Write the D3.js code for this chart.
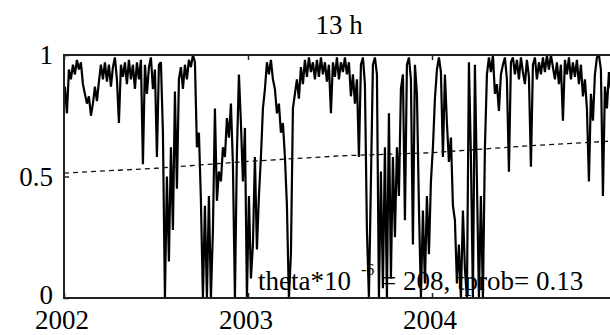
<!DOCTYPE html>
<html>
<head>
<meta charset="utf-8">
<script src="https://cdn.jsdelivr.net/npm/d3@7"></script>
<style>
  body { margin: 0; background: #fff; overflow: hidden; }
  svg { display: block; }
  svg text { font-family: "Liberation Serif", "DejaVu Serif", "Times New Roman", Times, serif; }
</style>
</head>
<body>
<svg id="chart" width="610" height="335"></svg>
<script>
// series sampled every 1/92 year starting at the start of 2002
const t0 = 2002.005;
const step = 1 / 92;
const series = [
  0.87, 0.76, 0.94, 0.90, 0.96, 0.92, 0.98, 0.94, 0.97, 0.88,
  0.84, 0.80, 0.83, 0.75, 0.80, 0.87, 0.81, 0.89, 0.96, 0.90,
  0.97, 0.89, 0.96, 0.87, 0.95, 0.99, 0.90, 0.72, 0.96, 0.91,
  0.97, 0.88, 0.98, 0.90, 0.96, 0.86, 0.97, 0.90, 0.98, 0.55,
  0.96, 0.84, 0.95, 0.99, 0.86, 0.94, 0.58, 0.96,
  0.97, 0.68, 0.00, 0.50, 0.15, 0.62, 0.28, 0.85, 0.45, 0.90,
  0.95, 0.86, 0.96, 0.90, 0.98, 0.95, 1.00, 0.97, 0.62, 0.68,
  0.40, 0.00, 0.38, 0.00, 0.42, 0.00, 0.28, 0.78, 0.40, 0.52,
  0.48, 0.62, 0.58, 0.74, 0.66, 0.80, 0.55, 0.00, 0.60, 0.92,
  0.72, 0.48, 0.70, 0.00, 0.42, 0.08, 0.22, 0.58,
  0.20, 0.42, 0.58, 0.78, 0.86, 0.97, 0.92, 0.98, 0.90, 0.86,
  0.76, 0.80, 0.68, 0.72, 0.58, 0.38, 0.00, 0.18, 0.78, 0.84,
  0.90, 0.82, 0.95, 0.88, 0.98, 0.91, 0.99, 0.93, 0.97, 0.90,
  0.98, 0.91, 0.99, 0.92, 0.97, 0.89, 0.96, 0.76, 0.97, 0.91,
  0.99, 0.90, 0.97, 0.93, 0.99, 0.92, 0.97,
  0.83, 0.92, 0.80, 0.90, 0.58, 0.96, 0.99, 0.88, 0.28, 0.00,
  0.48, 0.96, 0.99, 0.92, 0.00, 0.52, 0.04, 0.62, 0.00, 0.76,
  0.08, 0.58, 0.25, 0.62, 0.42, 0.86, 0.92, 0.32, 0.96, 0.99,
  0.90, 0.22, 0.96, 0.84, 0.38, 0.00, 0.36, 0.06, 0.42, 0.18,
  0.48, 0.62, 0.82, 0.94, 0.99, 0.93, 0.58,
  0.92, 0.72, 0.56, 0.66, 0.38, 0.32, 0.06, 0.22, 0.00, 0.36,
  0.12, 0.00, 0.97, 0.58, 0.00, 0.96, 0.48, 0.00, 0.42, 0.00,
  0.62, 0.92, 0.99, 0.93, 1.00, 0.84, 0.88, 0.77, 0.92, 0.96,
  0.99, 0.90, 0.52, 0.97, 0.99, 0.92, 0.98, 0.90, 0.99, 0.93,
  0.88, 0.98, 0.91, 0.54, 0.96, 0.99, 0.90, 0.97,
  0.92, 0.99, 0.93, 1.00, 0.94, 1.00, 0.95, 0.90, 0.97, 0.88,
  0.96, 0.73, 0.98, 0.92, 0.99, 0.90, 0.97, 0.91, 0.98, 0.88,
  0.96, 0.83, 0.90, 0.78, 0.48, 0.84, 0.73, 0.92, 0.99, 1.00,
  0.94, 0.42, 0.87, 0.78, 0.93, 0.86
];

// dashed trend line
const trendYears = [2002, 2002.5, 2003, 2003.5, 2004, 2004.5, 2005];
const trendVals = [0.514, 0.534, 0.562, 0.585, 0.598, 0.625, 0.647];

const yearTicks = [2002, 2003, 2004];
const yTicks = [0, 0.5, 1];
const title = "13 h";

const margin = { top: 55, left: 64, bottom: 37 };
const svg = d3.select("#chart");
const H = 335;

const x = d3.scaleLinear().domain([2002, 2005]).range([margin.left, margin.left + 552]);
const y = d3.scaleLinear().domain([0, 1]).range([H - margin.bottom, margin.top]);

svg.append("rect").attr("width", 610).attr("height", 335).attr("fill", "#fff");

svg.append("defs").append("clipPath").attr("id", "clip")
  .append("rect")
  .attr("x", x(2002)).attr("y", y(1))
  .attr("width", 700).attr("height", y(0) - y(1));

const plot = svg.append("g").attr("clip-path", "url(#clip)");

const pts = series.map((v, i) => ({ t: t0 + i * step, v: v }));

plot.append("path")
  .datum(pts)
  .attr("fill", "none")
  .attr("stroke", "#000")
  .attr("stroke-width", 2.2)
  .attr("stroke-linejoin", "bevel")
  .attr("d", d3.line().x(d => x(d.t)).y(d => y(d.v)));

plot.append("path")
  .datum(trendYears.map((t, i) => ({ t: t, v: trendVals[i] })))
  .attr("fill", "none")
  .attr("stroke", "#111")
  .attr("stroke-width", 1.3)
  .attr("stroke-dasharray", "5,4")
  .attr("d", d3.line().x(d => x(d.t)).y(d => y(d.v)));

// frame
svg.append("rect")
  .attr("x", x(2002)).attr("y", y(1))
  .attr("width", 700).attr("height", y(0) - y(1))
  .attr("fill", "none")
  .attr("stroke", "#222")
  .attr("stroke-width", 2);

// inner ticks
const xb = d3.axisBottom(x).tickValues(yearTicks).tickSize(-5).tickFormat("");
const xt = d3.axisTop(x).tickValues(yearTicks).tickSize(-5).tickFormat("");
const yl = d3.axisLeft(y).tickValues(yTicks).tickSize(-5).tickFormat("");
[svg.append("g").attr("transform", `translate(0,${y(0)})`).call(xb),
 svg.append("g").attr("transform", `translate(0,${y(1)})`).call(xt),
 svg.append("g").attr("transform", `translate(${x(2002)},0)`).call(yl)]
  .forEach(g => {
    g.select(".domain").remove();
    g.selectAll("line").attr("stroke", "#222").attr("stroke-width", 1.5);
  });

svg.selectAll("text.ylab")
  .data(yTicks)
  .join("text")
  .attr("class", "ylab")
  .attr("x", x(2002) - 11)
  .attr("y", d => d === 0 ? y(d) + 6 : y(d) + 9)
  .attr("text-anchor", "end")
  .style("font-size", "27px")
  .text(d => d3.format("~g")(d));

svg.selectAll("text.xlab")
  .data(yearTicks)
  .join("text")
  .attr("class", "xlab")
  .attr("x", d => x(d) - 2)
  .attr("y", 329)
  .attr("text-anchor", "middle")
  .style("font-size", "27px")
  .text(d => d);

svg.append("text")
  .attr("x", 339)
  .attr("y", 34)
  .attr("text-anchor", "middle")
  .style("font-size", "27px")
  .text(title);

const note = svg.append("text")
  .attr("x", 258)
  .attr("y", 290)
  .style("font-size", "27px");
note.append("tspan").text("theta*10");
note.append("tspan").attr("dx", 10).attr("dy", -15).style("font-size", "16px").text("-6");
note.append("tspan").attr("dy", 15).text(" = 208, tprob= 0.13");
</script>
</body>
</html>
